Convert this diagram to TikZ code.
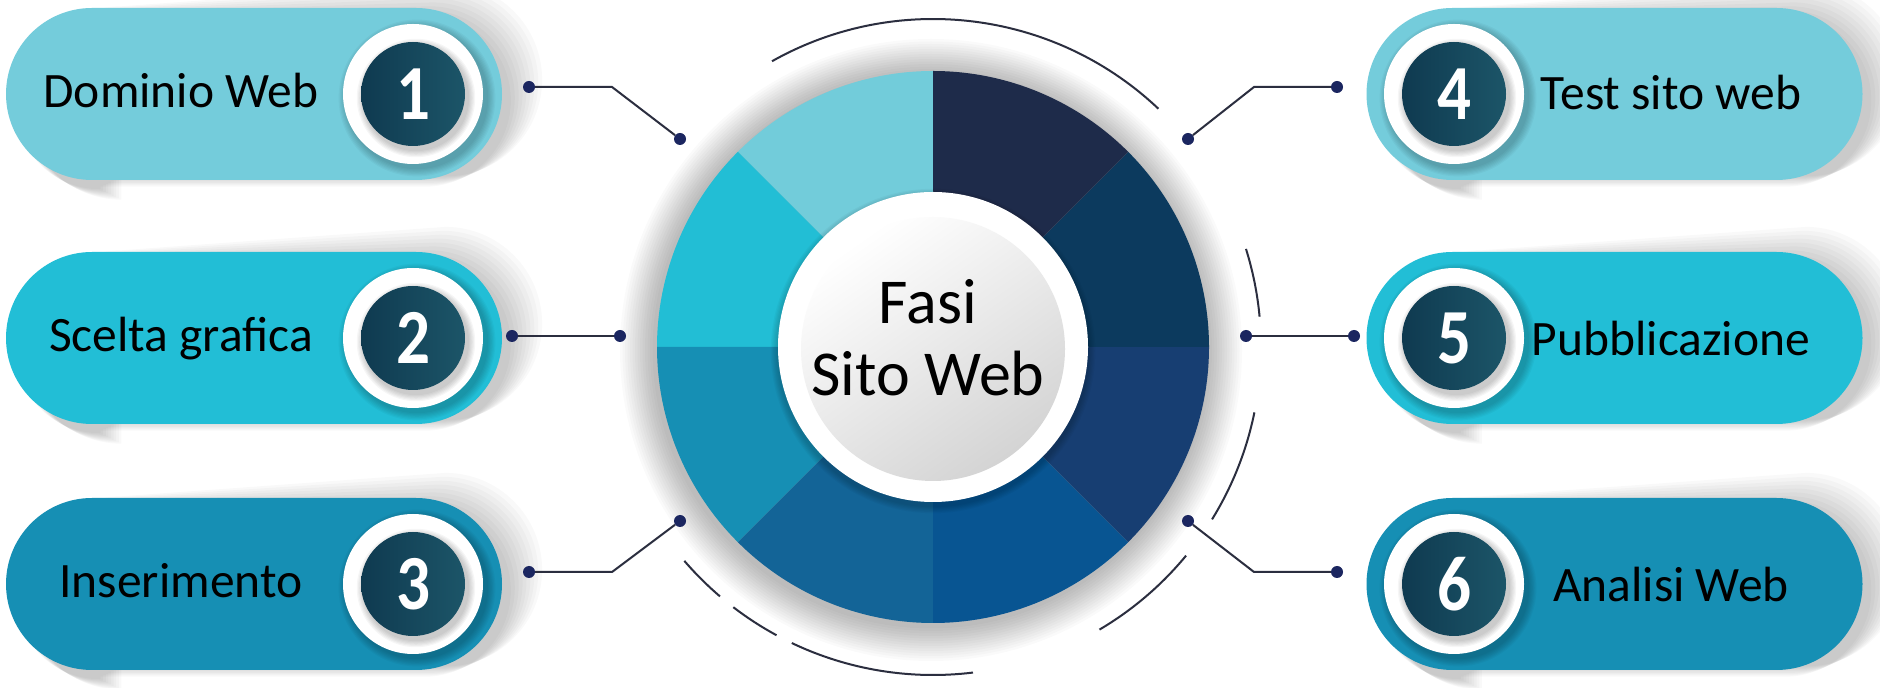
\documentclass[tikz,border=0pt]{standalone}
\usepackage{fontspec}
\setmainfont{Carlito}
\newfontfamily\numfont[FakeStretch=0.86]{Carlito}
\usetikzlibrary{shapes.misc}
\definecolor{pillA}{HTML}{74CCDB}
\definecolor{pillB}{HTML}{22BED6}
\definecolor{pillC}{HTML}{168FB4}
\definecolor{segA}{HTML}{72CCDA}
\definecolor{segB}{HTML}{22BED5}
\definecolor{segC}{HTML}{168FB4}
\definecolor{segD}{HTML}{136497}
\definecolor{segE}{HTML}{085592}
\definecolor{segF}{HTML}{173E72}
\definecolor{segG}{HTML}{0C3A5E}
\definecolor{segH}{HTML}{1E2B4A}
\definecolor{numL}{HTML}{0F3A50}
\definecolor{numR}{HTML}{1C5568}
\definecolor{dotc}{HTML}{1B2660}
\definecolor{linec}{HTML}{2B2E3F}
\newcommand\pillpath[4]{({#1-#3+#4},{#2-#4}) -- ({#1+#3-#4},{#2-#4}) arc[start angle=-90,end angle=90,radius=#4] -- ({#1-#3+#4},{#2+#4}) arc[start angle=90,end angle=270,radius=#4] -- cycle}
\begin{document}
\begin{tikzpicture}[x=1pt,y=1pt,
  pillbox/.style={rounded rectangle, minimum width=496pt, minimum height=172pt, inner sep=0pt, draw=none},
  numring/.style={circle, fill=white, minimum size=140pt, inner sep=0pt},
  numdisc/.style={circle, left color=numL, right color=numR, minimum size=104pt, inner sep=0pt, text=white, font=\numfont\fontsize{78}{78}\selectfont\bfseries},
  lbl/.style={font=\fontsize{49.5}{54}\selectfont, text=black, inner sep=0pt, anchor=base},
  ttl/.style={font=\fontsize{64}{70}\selectfont, text=black, inner sep=0pt, anchor=base},
  dotn/.style={circle, fill=dotc, minimum size=12pt, inner sep=0pt},
  conn/.style={draw=linec, line width=2pt},
  arcl/.style={draw=linec, line width=2pt}]
\useasboundingbox (0,0) rectangle (1880,688);
\fill[white] (0,0) rectangle (1880,688);

% ---------- pill shadows ----------
\foreach \cx/\cy in {254/594,254/350,254/104,1614.5/594,1614.5/350,1614.5/104}{
  \foreach \k in {1,...,9}{
    \fill[black,opacity=0.022] \pillpath{\cx+6}{\cy-9}{247+1.3*\k}{85+1.3*\k};
  }
}
% ---------- pills ----------
\node[pillbox, fill=pillA] (p1) at (254,594) {};
\node[pillbox, fill=pillB] (p2) at (254,350) {};
\node[pillbox, fill=pillC] (p3) at (254,104) {};
\node[pillbox, fill=pillA] (p4) at (1614.5,594) {};
\node[pillbox, fill=pillB] (p5) at (1614.5,350) {};
\node[pillbox, fill=pillC] (p6) at (1614.5,104) {};

% ---------- number circle shadows ----------
\foreach \cx/\cy in {413/594,413/350,413/104,1454/594,1454/350,1454/104}{
  \foreach \k in {1,...,7}{
    \fill[black,opacity=0.03] (\cx+4,\cy-4) circle[radius={70+1.2*\k}];
  }
}
\node[numring] (r1) at (413,594) {};
\node[numring] (r2) at (413,350) {};
\node[numring] (r3) at (413,104) {};
\node[numring] (r4) at (1454,594) {};
\node[numring] (r5) at (1454,350) {};
\node[numring] (r6) at (1454,104) {};
\foreach \cx/\cy in {413/594,413/350,413/104,1454/594,1454/350,1454/104}{
  \foreach \k in {1,...,6}{
    \fill[black,opacity=0.035] (\cx+3,\cy-4) circle[radius={52+1.2*\k}];
  }
}
\node[numdisc] (d1) at (413,594) {1};
\node[numdisc] (d2) at (413,350) {2};
\node[numdisc] (d3) at (413,104) {3};
\node[numdisc] (d4) at (1454,594) {4};
\node[numdisc] (d5) at (1454,350) {5};
\node[numdisc] (d6) at (1454,104) {6};

% ---------- labels ----------
\node[lbl] (t1) at (181,580) {Dominio Web};
\node[lbl] (t2) at (181,336) {Scelta grafica};
\node[lbl] (t3) at (181,90) {Inserimento};
\node[lbl] (t4) at (1671,578) {Test sito web};
\node[lbl] (t5) at (1671,332) {Pubblicazione};
\node[lbl] (t6) at (1671,86) {Analisi Web};

% ---------- central ring ----------
\coordinate (C) at (933,341);
\foreach \k in {1,...,14}{
  \fill[black,opacity=0.018] (931,338) circle[radius={276+2.5*\k}];
}
\foreach \a/\b/\c in {90/135/segA,135/180/segB,180/225/segC,225/270/segD,270/315/segE,315/360/segF,0/45/segG,45/90/segH}{
  \fill[\c] (C) -- ++(\a:276) arc[start angle=\a,end angle=\b,radius=276] -- cycle;
}
\foreach \k in {1,...,6}{
  \fill[black,opacity=0.03] (933,337) circle[radius={155+1.2*\k}];
}
\node[circle, fill=white, minimum size=310pt, inner sep=0pt] (hub) at (C) {};
\shade[top color=white, bottom color=black!17, shading angle=35] (933,339) circle[radius=132];
\node[ttl] (f1) at (928,364) {Fasi};
\node[ttl] (f2) at (928,292) {Sito Web};

% ---------- outer arcs ----------
\foreach \a/\b in {46.6/119.4, 5.3/17.4, -31.7/-11.5, -59.5/-39.5, -115.5/-83, -127.5/-118.5, -139.3/-130.5}{
  \draw[arcl] (C) ++(\a:328) arc[start angle=\a,end angle=\b,radius=328];
}

% ---------- connectors ----------
\node[dotn] (a1) at (529,601) {};
\coordinate (b1) at (612,601);
\node[dotn] (c1) at (680,549) {};
\node[dotn] (a2) at (512,352) {};
\node[dotn] (c2) at (620,352) {};
\node[dotn] (a3) at (529,116) {};
\coordinate (b3) at (612,116);
\node[dotn] (c3) at (680,167) {};
\node[dotn] (a4) at (1337,601) {};
\coordinate (b4) at (1254,601);
\node[dotn] (c4) at (1188,549) {};
\node[dotn] (a5) at (1354,352) {};
\node[dotn] (c5) at (1246,352) {};
\node[dotn] (a6) at (1337,116) {};
\coordinate (b6) at (1254,116);
\node[dotn] (c6) at (1188,167) {};
\draw[conn] (a1) -- (b1) -- (c1);
\draw[conn] (a2) -- (c2);
\draw[conn] (a3) -- (b3) -- (c3);
\draw[conn] (a4) -- (b4) -- (c4);
\draw[conn] (a5) -- (c5);
\draw[conn] (a6) -- (b6) -- (c6);
\end{tikzpicture}
\end{document}
